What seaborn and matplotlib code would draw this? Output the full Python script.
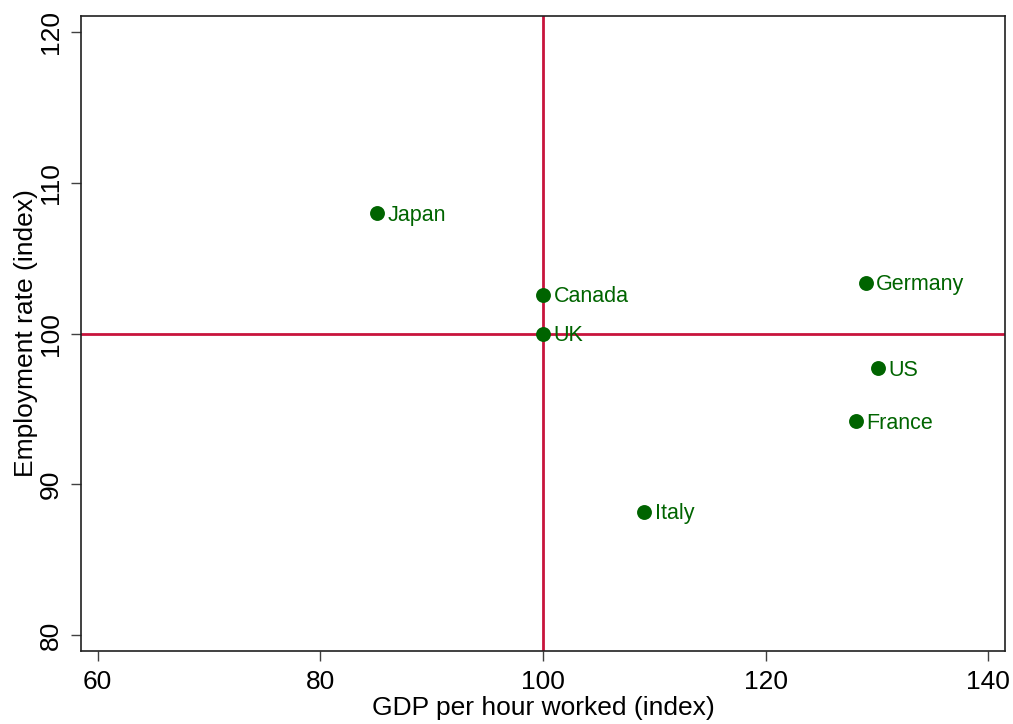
import matplotlib
matplotlib.use("Agg")
import matplotlib.pyplot as plt
import seaborn as sns
import pandas as pd

countries = ["Japan", "Canada", "UK", "Germany", "US", "France", "Italy"]
gdp_per_hour = [85.1, 100.0, 100.0, 129.0, 130.1, 128.1, 109.1]
employment = [108.0, 102.6, 100.0, 103.4, 97.7, 94.2, 88.2]
x_ticks = [60, 80, 100, 120, 140]
y_ticks = [80, 90, 100, 110, 120]

df = pd.DataFrame({"country": countries, "gdp": gdp_per_hour, "emp": employment})

sns.set_theme(style="white")
plt.rcParams["font.family"] = ["Liberation Sans", "DejaVu Sans"]
plt.rcParams["text.color"] = "black"
plt.rcParams["axes.labelcolor"] = "black"

fig = plt.figure(figsize=(10.13, 7.24), dpi=100)
ax = fig.add_axes([0.080, 0.101, 0.912, 0.877])

green = "#006400"
red = "#C8143C"

ax.axvline(100, color=red, lw=2, zorder=1)
ax.axhline(100, color=red, lw=2, zorder=1)

sns.scatterplot(data=df, x="gdp", y="emp", ax=ax, color=green, s=115,
                edgecolor=green, linewidth=0, zorder=3, legend=False)
for c, x, y in zip(countries, gdp_per_hour, employment):
    ax.annotate(c, (x, y), xytext=(7.5, -1.5), textcoords="offset points",
                va="center", ha="left", color=green, fontsize=15.5)

ax.set_xlim(58.5, 141.5)
ax.set_ylim(78.95, 121.1)
ax.set_xticks(x_ticks)
ax.set_yticks(y_ticks)
ax.set_yticklabels([str(v) for v in y_ticks], rotation=90, va="center")
ax.tick_params(axis="both", direction="out", length=7, width=1, color="#404040",
               labelsize=19, labelcolor="black", bottom=True, left=True)
ax.tick_params(axis="x", pad=7)
ax.tick_params(axis="y", pad=6)
for s in ax.spines.values():
    s.set_color("#202020")
    s.set_linewidth(1.2)

ax.set_xlabel("GDP per hour worked (index)", fontsize=19, labelpad=1)
ax.set_ylabel("Employment rate (index)", fontsize=19, labelpad=1)

fig.savefig("out.png", dpi=100)
